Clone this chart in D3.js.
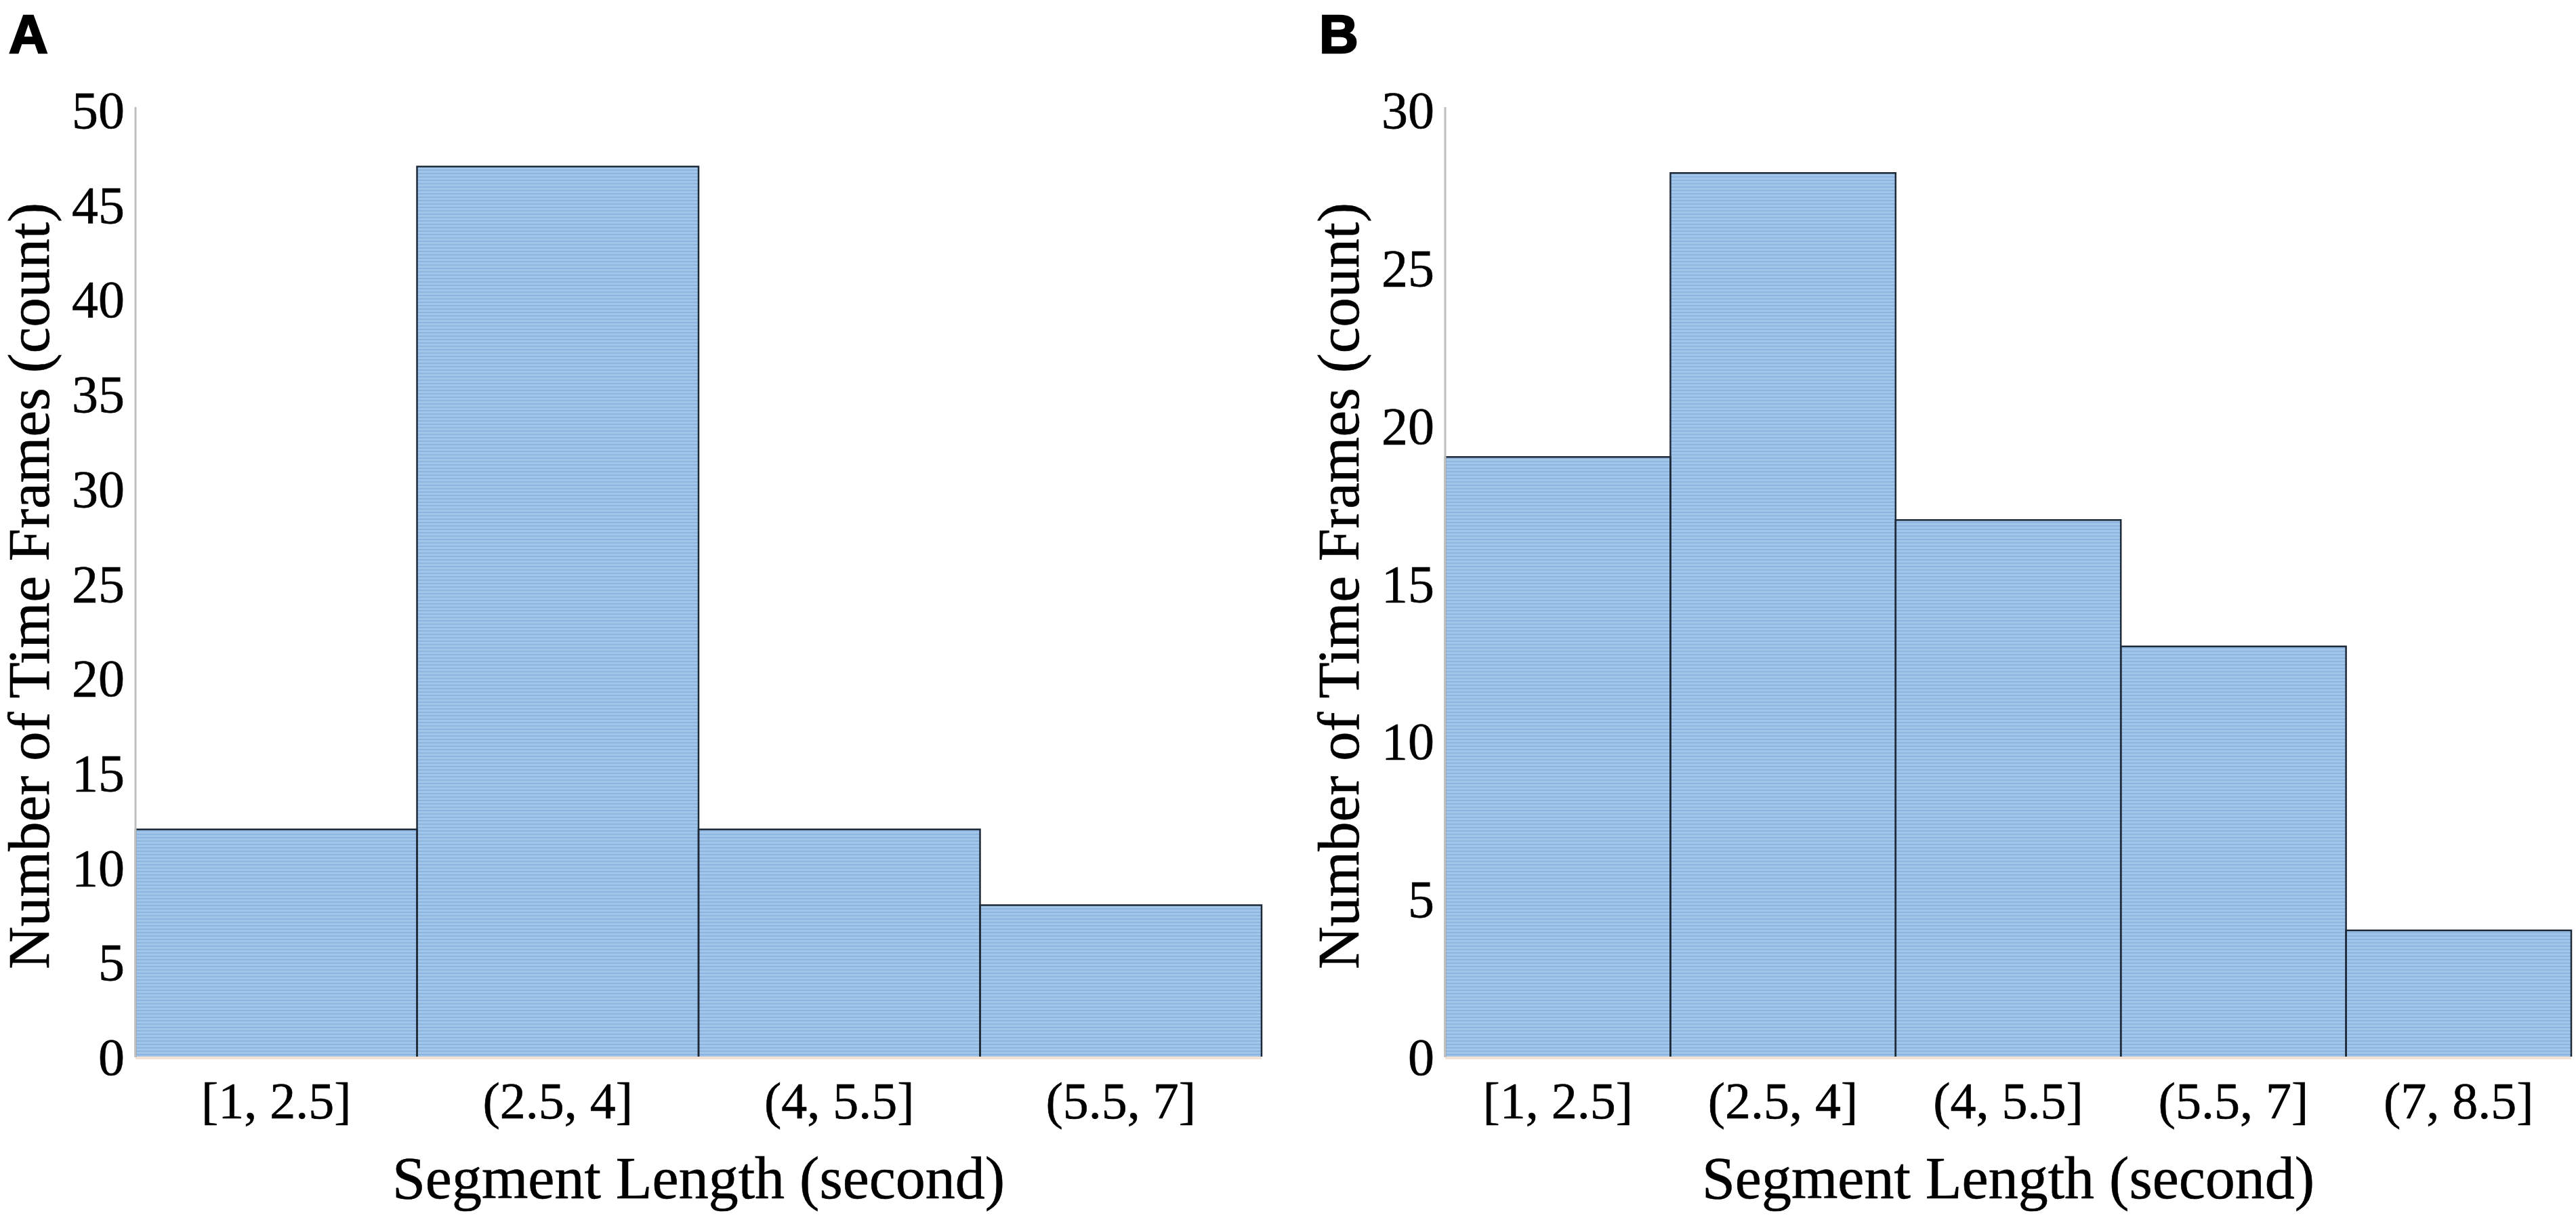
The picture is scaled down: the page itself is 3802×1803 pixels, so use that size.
<!DOCTYPE html>
<html>
<head>
<meta charset="utf-8">
<script src="https://cdn.jsdelivr.net/npm/d3@7/dist/d3.min.js"></script>
<style>
  html, body { margin: 0; padding: 0; background: #ffffff; }
  svg { display: block; }
</style>
</head>
<body>
<script>
// ---- Data ----
const categoriesA = ["[1, 2.5]", "(2.5, 4]", "(4, 5.5]", "(5.5, 7]"];
const valuesA = [12, 47, 12, 8];
const ticksA = [0, 5, 10, 15, 20, 25, 30, 35, 40, 45, 50];

const categoriesB = ["[1, 2.5]", "(2.5, 4]", "(4, 5.5]", "(5.5, 7]", "(7, 8.5]"];
const valuesB = [19, 28, 17, 13, 4];
const ticksB = [0, 5, 10, 15, 20, 25, 30];

const panelLabels = ["A", "B"];
const xTitle = "Segment Length (second)";
const yTitle = "Number of Time Frames (count)";

// ---- Layout ----
const W = 3802, H = 1803;
const svg = d3.select("body").append("svg")
  .attr("width", W).attr("height", H)
  .attr("viewBox", `0 0 ${W} ${H}`);
svg.append("rect").attr("width", W).attr("height", H).attr("fill", "#ffffff");

// stripe pattern for bar fill
const defs = svg.append("defs");
const pat = defs.append("pattern")
  .attr("id", "stripes")
  .attr("patternUnits", "userSpaceOnUse")
  .attr("width", 8).attr("height", 5);
pat.append("rect").attr("width", 8).attr("height", 5).attr("fill", "#a2c6ea");
pat.append("rect").attr("width", 8).attr("height", 2).attr("y", 0).attr("fill", "#8db5e0");

const serif = "'Liberation Serif', 'Times New Roman', serif";
const sans = "'Liberation Sans', Arial, sans-serif";

const panels = [
  { label: panelLabels[0], cats: categoriesA, vals: valuesA, ticks: ticksA, max: 50,
    x0: 200, x1: 1862, labelX: 13 },
  { label: panelLabels[1], cats: categoriesB, vals: valuesB, ticks: ticksB, max: 30,
    x0: 2133, x1: 3795, labelX: 1947 }
];

const yBottom = 1559, yTop = 162;

panels.forEach(p => {
  const g = svg.append("g");
  const x = d3.scaleBand().domain(p.cats).range([p.x0, p.x1]).padding(0);
  const y = d3.scaleLinear().domain([0, p.max]).range([yBottom, yTop]);

  // faint peach shadow under the bars
  g.append("rect")
    .attr("x", p.x0).attr("y", yBottom)
    .attr("width", p.x1 - p.x0).attr("height", 4)
    .attr("fill", "#f4e2d4");

  // bar fills
  g.selectAll("rect.bar").data(p.vals).join("rect")
    .attr("class", "bar")
    .attr("x", (d, i) => x(p.cats[i]))
    .attr("y", d => y(d))
    .attr("width", x.bandwidth())
    .attr("height", d => y(0) - y(d))
    .attr("fill", "url(#stripes)");

  // bar outlines (left, top, right)
  g.selectAll("path.outline").data(p.vals).join("path")
    .attr("class", "outline")
    .attr("d", (d, i) => {
      const path = d3.path();
      const xl = x(p.cats[i]), xr = xl + x.bandwidth();
      path.moveTo(xl, y(0));
      path.lineTo(xl, y(d));
      path.lineTo(xr, y(d));
      path.lineTo(xr, y(0));
      return path.toString();
    })
    .attr("fill", "none")
    .attr("stroke", "#1e2a38")
    .attr("stroke-width", 2.5);

  // y axis
  const yAxis = d3.axisLeft(y).tickValues(p.ticks).tickSize(0).tickPadding(16)
    .tickFormat(d3.format("d"));
  const ya = g.append("g").attr("transform", `translate(${p.x0},0)`).call(yAxis);
  ya.select(".domain").remove();
  ya.selectAll("text")
    .attr("font-family", serif).attr("font-size", 78).attr("fill", "#000")
    .attr("stroke", "#000").attr("stroke-width", 0.6)
    .attr("dy", "0.34em");
  g.append("line")
    .attr("x1", p.x0).attr("x2", p.x0)
    .attr("y1", yTop - 4).attr("y2", yBottom + 1)
    .attr("stroke", "#bfbfbf").attr("stroke-width", 3);

  // x axis labels
  const xAxis = d3.axisBottom(x).tickSize(0).tickPadding(0);
  const xa = g.append("g").attr("transform", `translate(0,${yBottom})`).call(xAxis);
  xa.select(".domain").remove();
  xa.selectAll("text")
    .attr("font-family", serif).attr("font-size", 76).attr("fill", "#000")
    .attr("stroke", "#000").attr("stroke-width", 0.6)
    .attr("y", 91).attr("dy", 0);

  // x title
  g.append("text")
    .attr("x", (p.x0 + p.x1) / 2).attr("y", 1768)
    .attr("text-anchor", "middle")
    .attr("font-family", serif).attr("font-size", 88).attr("fill", "#000")
    .attr("stroke", "#000").attr("stroke-width", 0.6)
    .text(xTitle);

  // y title
  g.append("text")
    .attr("transform", `translate(${p.x0 - 128},${(yTop + yBottom) / 2 + 4}) rotate(-90)`)
    .attr("text-anchor", "middle")
    .attr("font-family", serif).attr("font-size", 87).attr("fill", "#000")
    .attr("stroke", "#000").attr("stroke-width", 0.6)
    .text(yTitle);

  // panel label
  g.append("text")
    .attr("x", p.labelX).attr("y", 78)
    .attr("font-family", sans).attr("font-weight", 700).attr("font-size", 80)
    .attr("fill", "#000").attr("stroke", "#000").attr("stroke-width", 2.5)
    .text(p.label);
});
</script>
</body>
</html>
